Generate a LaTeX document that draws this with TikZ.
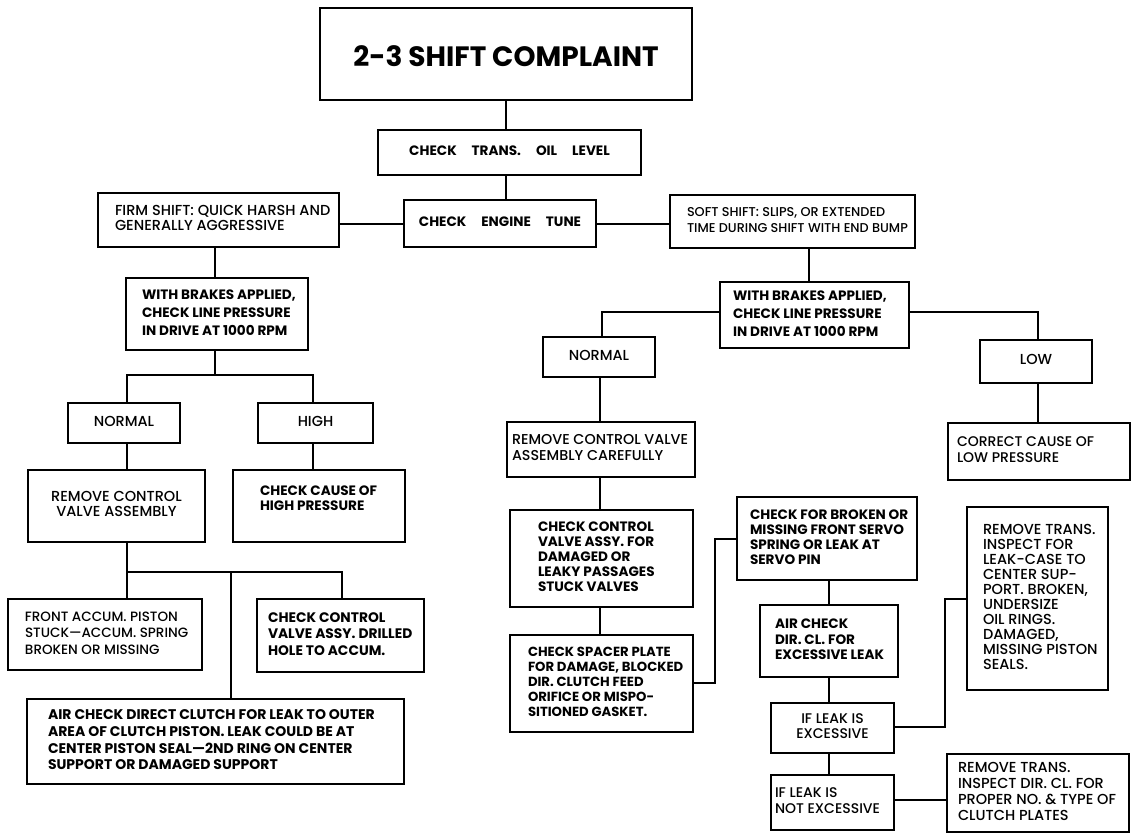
\documentclass[tikz,border=0pt]{standalone}
\usepackage{fontspec}
\setmainfont{Poppins}[UprightFont=* Medium, BoldFont=* Bold]
\newcommand\boxL[3]{\makebox[#1pt][l]{\hspace*{#2pt}\begin{tabular}{@{}l@{}}#3\end{tabular}}}
\newcommand\boxC[2]{\makebox[#1pt][c]{\begin{tabular}{@{}c@{}}#2\end{tabular}}}
\newcommand\wsp{\hspace{1.1em}}
\begin{document}
\begin{tikzpicture}[x=1pt,y=-1pt,
  bx/.style={draw, line width=2.4pt, inner sep=0pt},
  sz/.style 2 args={minimum width=#1pt, minimum height=#2pt},
  rg/.style={font=\fontsize{14.5}{15.5}\selectfont},
  bd/.style={font=\bfseries\fontsize{13.6}{15.5}\selectfont},
  ln/.style={line width=2pt}]
\useasboundingbox (0,0) rectangle (1131,838);
\fill[white] (0,0) rectangle (1131,838);

% ---- top
\node[bx,sz={372}{92},font=\bfseries\fontsize{28}{32}\selectfont] (title) at (506,54) {\raisebox{-6pt}[\height][\depth]{\boxC{372}{2-3 SHIFT COMPLAINT}}};
\node[bx,sz={263}{45},bd] (oil) at (509.5,152.5) {\boxC{263}{CHECK\wsp TRANS.\wsp OIL\wsp LEVEL}};
\node[bx,sz={192}{47},bd] (tune) at (500,223.5) {\boxC{192}{CHECK\wsp ENGINE\wsp TUNE}};
\node[bx,sz={241}{54},rg] (firm) at (218.5,220) {\boxL{241}{17}{FIRM SHIFT: QUICK HARSH AND\\GENERALLY AGGRESSIVE}};
\node[bx,sz={245}{53},font=\fontsize{12.8}{15.5}\selectfont] (soft) at (792.5,221.5) {\boxL{245}{17}{SOFT SHIFT: SLIPS, OR EXTENDED\\TIME DURING SHIFT WITH END BUMP}};

% ---- left branch
\node[bx,sz={182}{72},font=\bfseries\fontsize{13.6}{17.7}\selectfont] (wbaL) at (217,314) {\boxL{182}{16}{WITH BRAKES APPLIED,\\CHECK LINE PRESSURE\\IN DRIVE AT 1000 RPM}};
\node[bx,sz={112}{40},rg] (normL) at (124,423) {\boxC{112}{NORMAL}};
\node[bx,sz={115}{40},rg] (high) at (315.5,423) {\boxC{115}{HIGH}};
\node[bx,sz={177}{72},rg] (remL) at (116.5,506) {\boxC{177}{REMOVE CONTROL\\VALVE ASSEMBLY}};
\node[bx,sz={172}{72},bd] (causeH) at (319,506) {\raisebox{6pt}[\height][\depth]{\boxL{172}{27}{CHECK CAUSE OF\\HIGH PRESSURE}}};
\node[bx,sz={194}{71},font=\fontsize{13.5}{16.5}\selectfont] (front) at (105,634.5) {\boxL{194}{17}{FRONT ACCUM. PISTON\\STUCK---ACCUM. SPRING\\BROKEN OR MISSING}};
\node[bx,sz={167}{73},font=\bfseries\fontsize{13.8}{16.5}\selectfont] (ccvL) at (340.5,635.5) {\boxL{167}{11}{CHECK CONTROL\\VALVE ASSY. DRILLED\\HOLE TO ACCUM.}};
\node[bx,sz={377}{85},font=\bfseries\fontsize{14}{16.7}\selectfont] (airL) at (215.5,741.5) {\boxL{377}{21}{AIR CHECK DIRECT CLUTCH FOR LEAK TO OUTER\\AREA OF CLUTCH PISTON. LEAK COULD BE AT\\CENTER PISTON SEAL---2ND RING ON CENTER\\SUPPORT OR DAMAGED SUPPORT}};

% ---- right branch
\node[bx,sz={189}{66},font=\bfseries\fontsize{13.6}{17.7}\selectfont] (wbaR) at (814.5,315) {\boxL{189}{13}{WITH BRAKES APPLIED,\\CHECK LINE PRESSURE\\IN DRIVE AT 1000 RPM}};
\node[bx,sz={112}{40},rg] (normR) at (599,357) {\boxC{112}{NORMAL}};
\node[bx,sz={112}{43},rg] (low) at (1036,361.5) {\boxC{112}{LOW}};
\node[bx,sz={182}{57},font=\fontsize{14}{15.5}\selectfont] (correct) at (1039,451.5) {\boxL{182}{9}{CORRECT CAUSE OF\\LOW PRESSURE}};
\node[bx,sz={188}{55},font=\fontsize{14.3}{15.5}\selectfont] (remR) at (601,449.5) {\boxL{188}{5}{REMOVE CONTROL VALVE\\ASSEMBLY CAREFULLY}};
\node[bx,sz={183}{97},font=\bfseries\fontsize{13.6}{15}\selectfont] (ccvR) at (601.5,558.5) {\boxL{183}{28}{CHECK CONTROL\\VALVE ASSY. FOR\\DAMAGED OR\\LEAKY PASSAGES\\STUCK VALVES}};
\node[bx,sz={183}{97},font=\bfseries\fontsize{13.2}{15}\selectfont] (spacer) at (601.5,683.5) {\boxL{183}{18}{CHECK SPACER PLATE\\FOR DAMAGE, BLOCKED\\DIR. CLUTCH FEED\\ORIFICE OR MISPO-\\SITIONED GASKET.}};
\node[bx,sz={180}{83},font=\bfseries\fontsize{13.6}{15}\selectfont] (broken) at (827,538.5) {\boxL{180}{13}{CHECK FOR BROKEN OR\\MISSING FRONT SERVO\\SPRING OR LEAK AT\\SERVO PIN}};
\node[bx,sz={138}{72},bd] (airR) at (829,641) {\boxL{138}{15}{AIR CHECK\\DIR. CL. FOR\\EXCESSIVE LEAK}};
\node[bx,sz={123}{50},font=\fontsize{14}{15.5}\selectfont] (exc) at (832.5,728) {\boxC{123}{IF LEAK IS\\EXCESSIVE}};
\node[bx,sz={123}{55},font=\fontsize{14}{15.5}\selectfont] (notexc) at (832.5,802.5) {\boxL{123}{4}{IF LEAK IS\\NOT EXCESSIVE}};
\node[bx,sz={141}{183},font=\fontsize{14.5}{15}\selectfont] (rt1) at (1037.5,598.5) {\boxL{141}{16}{REMOVE TRANS.\\INSPECT FOR\\LEAK-CASE TO\\CENTER SUP-\\PORT. BROKEN,\\UNDERSIZE\\OIL RINGS.\\DAMAGED,\\MISSING PISTON\\SEALS.}};
\node[bx,sz={182}{78},font=\fontsize{14.5}{16}\selectfont] (rt2) at (1038,793) {\boxL{182}{11}{REMOVE TRANS.\\INSPECT DIR. CL. FOR\\PROPER NO. \& TYPE OF\\CLUTCH PLATES}};

% ---- connectors top
\draw[ln] (title.south) -- (title.south |- oil.north);
\draw[ln] (title.south |- oil.south) -- (title.south |- tune.north);
\draw[ln] (tune.west) -- (tune.west -| firm.east);
\draw[ln] (tune.east) -- (tune.east -| soft.west);

% ---- connectors left
\coordinate (a1) at (215,0);
\draw[ln] (a1 |- firm.south) -- (a1 |- wbaL.north);
\coordinate (j1) at (215,375);
\coordinate (j1l) at (127,375);
\coordinate (j1r) at (313,375);
\draw[ln] (j1 |- wbaL.south) -- (j1);
\draw[ln] (j1l |- normL.north) -- (j1l) -- (j1r) -- (j1r |- high.north);
\draw[ln] (j1l |- normL.south) -- (j1l |- remL.north);
\draw[ln] (j1r |- high.south) -- (j1r |- causeH.north);
\coordinate (j2l) at (127,572);
\coordinate (j2m) at (231,572);
\coordinate (j2r) at (342,572);
\draw[ln] (j2l |- remL.south) -- (j2l |- front.north);
\draw[ln] (j2l) -- (j2r) -- (j2r |- ccvL.north);
\draw[ln] (j2m) -- (j2m |- airL.north);

% ---- connectors right
\coordinate (b1) at (809,0);
\draw[ln] (b1 |- soft.south) -- (b1 |- wbaR.north);
\coordinate (b2) at (602,312);
\coordinate (b3) at (1038,312);
\draw[ln] (b2 -| wbaR.west) -- (b2) -- (b2 |- normR.north);
\draw[ln] (b3 -| wbaR.east) -- (b3) -- (b3 |- low.north);
\draw[ln] (b3 |- low.south) -- (b3 |- correct.north);
\coordinate (c1) at (600,0);
\draw[ln] (c1 |- normR.south) -- (c1 |- remR.north);
\draw[ln] (c1 |- remR.south) -- (c1 |- ccvR.north);
\draw[ln] (c1 |- ccvR.south) -- (c1 |- spacer.north);
\coordinate (c2) at (715,683);
\coordinate (c3) at (715,539);
\draw[ln] (c2 -| spacer.east) -- (c2) -- (c3) -- (c3 -| broken.west);
\coordinate (d1) at (829,0);
\draw[ln] (d1 |- broken.south) -- (d1 |- airR.north);
\draw[ln] (d1 |- airR.south) -- (d1 |- exc.north);
\draw[ln] (d1 |- exc.south) -- (d1 |- notexc.north);
\coordinate (e1) at (945,727);
\coordinate (e2) at (945,599);
\draw[ln] (e1 -| exc.east) -- (e1) -- (e2) -- (e2 -| rt1.west);
\coordinate (f1) at (0,800);
\draw[ln] (f1 -| notexc.east) -- (f1 -| rt2.west);
\end{tikzpicture}
\end{document}
